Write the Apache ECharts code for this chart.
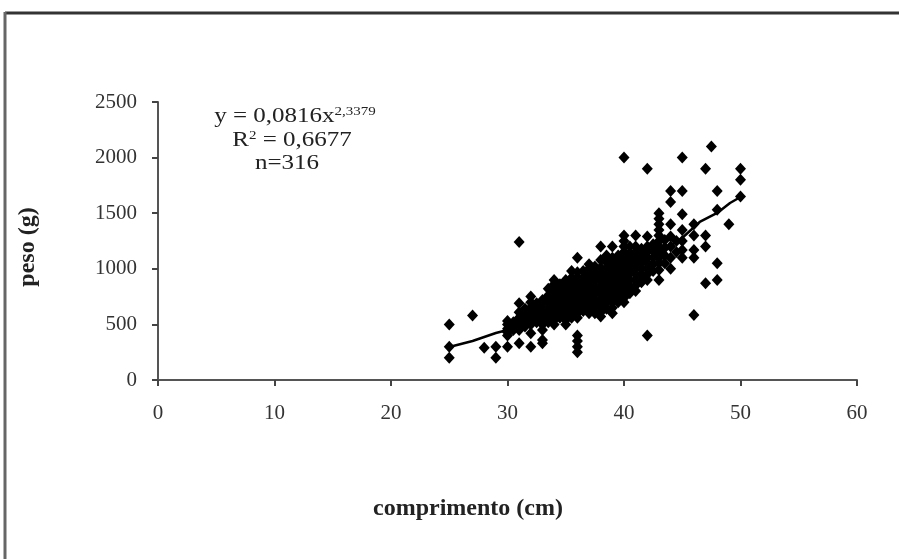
<!DOCTYPE html>
<html>
<head>
<meta charset="utf-8">
<script src="https://cdn.jsdelivr.net/npm/echarts@6/dist/echarts.min.js"></script>
<style>
html,body{margin:0;padding:0;background:#fff;}
#chart{width:899px;height:559px;}
</style>
</head>
<body>
<div id="chart"></div>
<script>
// Observed lengths (cm) and the weights (g) read at each length
const lengths = [25, 27, 28, 29, 30, 30.5, 31, 31.5, 32, 32.5, 33, 33.5, 34, 34.5, 35, 35.5, 36, 36.5, 37, 37.5, 38, 38.5, 39, 39.5, 40, 40.5, 41, 41.5, 42, 42.5, 43, 43.5, 44, 44.5, 45, 46, 47, 47.5, 48, 49, 50];
const weightsByLength = [
  [200, 300, 500],
  [580],
  [290],
  [200, 300],
  [300, 400, 430, 460, 500, 530],
  [450, 480, 520],
  [330, 450, 500, 560, 610, 690, 1240],
  [480, 530, 580, 640],
  [300, 420, 500, 550, 600, 650, 700, 750],
  [520, 570, 630, 690],
  [330, 360, 450, 500, 530, 570, 610, 650, 690, 720],
  [520, 580, 640, 700, 760, 820],
  [500, 540, 580, 620, 660, 700, 740, 780, 820, 860, 900],
  [560, 620, 680, 740, 800, 860],
  [500, 540, 580, 620, 660, 700, 740, 780, 820, 860, 900],
  [560, 620, 680, 740, 800, 860, 920, 980],
  [250, 300, 350, 400, 560, 600, 640, 680, 720, 760, 800, 840, 880, 920, 970, 1100],
  [620, 680, 740, 800, 860, 920, 980],
  [600, 640, 680, 720, 760, 800, 840, 880, 920, 960, 1000, 1040],
  [600, 660, 720, 780, 840, 900, 960, 1020],
  [570, 610, 650, 690, 730, 770, 810, 850, 890, 930, 970, 1010, 1080, 1200],
  [640, 700, 760, 820, 880, 940, 1000, 1060, 1120],
  [600, 650, 700, 740, 780, 820, 860, 900, 940, 980, 1020, 1060, 1100, 1200],
  [700, 760, 820, 880, 940, 1000, 1060, 1120],
  [700, 740, 780, 820, 860, 900, 940, 980, 1020, 1060, 1100, 1150, 1200, 1250, 1300, 2000],
  [780, 840, 900, 960, 1020, 1080, 1140, 1200],
  [800, 850, 900, 950, 1000, 1050, 1100, 1150, 1200, 1300],
  [880, 940, 1000, 1060, 1120, 1180],
  [400, 900, 950, 1000, 1050, 1100, 1150, 1200, 1290, 1900],
  [980, 1040, 1100, 1160, 1220],
  [900, 990, 1050, 1100, 1150, 1200, 1250, 1300, 1350, 1400, 1450, 1500],
  [1050, 1120, 1190, 1260],
  [1000, 1100, 1200, 1290, 1400, 1600, 1700],
  [1150, 1250],
  [1100, 1170, 1250, 1350, 1490, 1700, 2000],
  [585, 1100, 1170, 1300, 1400],
  [870, 1200, 1300, 1900],
  [2100],
  [900, 1050, 1530, 1700],
  [1400],
  [1650, 1800, 1900]
];
// Fitted curve as drawn in the figure
const trendX = [25, 27, 28, 29, 30, 32, 34, 36, 38, 40, 41.4, 43.7, 44.8, 46.5, 48, 49.1, 50];
const trendY = [297, 351, 387, 423, 450, 522, 620, 740, 860, 950, 1034, 1196, 1259, 1421, 1502, 1592, 1646];
// Axis ticks
const xTicks = [0, 10, 20, 30, 40, 50, 60];
const yTicks = [0, 500, 1000, 1500, 2000, 2500];

const points = [];
lengths.forEach((len, i) => weightsByLength[i].forEach(w => points.push([len, w])));
const trend = trendX.map((x, i) => [x, trendY[i]]);

const serif = '"Liberation Serif", "Times New Roman", serif';
const chart = echarts.init(document.getElementById('chart'), null, {renderer: 'canvas'});
chart.setOption({
  backgroundColor: '#fff',
  animation: false,
  grid: {left: 158, right: 42, top: 102, bottom: 179, containLabel: false},
  xAxis: {
    type: 'value',
    min: xTicks[0], max: xTicks[xTicks.length - 1], interval: 10,
    name: 'comprimento (cm)',
    nameLocation: 'middle',
    nameGap: 117,
    nameTextStyle: {fontFamily: serif, fontSize: 24, fontWeight: 'bold', color: '#222', padding: [0, 79, 0, 0]},
    axisLine: {show: true, lineStyle: {color: '#555', width: 2}},
    axisTick: {show: true, inside: false, length: 6, lineStyle: {color: '#444', width: 2}},
    axisLabel: {fontFamily: serif, fontSize: 21, color: '#333', margin: 23, formatter: v => String(v)},
    splitLine: {show: false}
  },
  yAxis: {
    type: 'value',
    min: yTicks[0], max: yTicks[yTicks.length - 1], interval: 500,
    name: 'peso (g)',
    nameLocation: 'middle',
    nameGap: 118,
    nameRotate: 90,
    nameTextStyle: {fontFamily: serif, fontSize: 24, fontWeight: 'bold', color: '#222', padding: [0, 12, 0, 0]},
    axisLine: {show: true, lineStyle: {color: '#555', width: 2}},
    axisTick: {show: true, inside: false, length: 6, lineStyle: {color: '#444', width: 2}},
    axisLabel: {fontFamily: serif, fontSize: 21, color: '#333', margin: 21, formatter: v => String(v)},
    splitLine: {show: false}
  },
  series: [
    {
      type: 'scatter',
      data: points,
      symbol: 'diamond',
      symbolSize: [11, 12],
      itemStyle: {color: '#000', opacity: 1},
      z: 2
    },
    {
      type: 'line',
      data: trend,
      showSymbol: false,
      lineStyle: {color: '#000', width: 2.5},
      z: 3
    }
  ],
  graphic: [
    {type: 'line', shape: {x1: 5, y1: 13, x2: 899, y2: 13}, style: {stroke: '#333', lineWidth: 3}},
    {type: 'line', shape: {x1: 5, y1: 12, x2: 5, y2: 559}, style: {stroke: '#666', lineWidth: 3}},
    {
      type: 'text', x: 295, y: 117, scaleX: 1.25,
      style: {
        text: '{a|y = 0,0816x}{s|2,3379}',
        align: 'center', verticalAlign: 'middle',
        rich: {
          a: {fontFamily: serif, fontSize: 20, fill: '#222'},
          s: {fontFamily: serif, fontSize: 12, fill: '#222', padding: [0, 0, 10, 0]}
        }
      }
    },
    {
      type: 'text', x: 292, y: 141, scaleX: 1.25,
      style: {
        text: '{a|R}{s|2}{a| = 0,6677}',
        align: 'center', verticalAlign: 'middle',
        rich: {
          a: {fontFamily: serif, fontSize: 20, fill: '#222'},
          s: {fontFamily: serif, fontSize: 12, fill: '#222', padding: [0, 0, 10, 0]}
        }
      }
    },
    {
      type: 'text', x: 287, y: 164, scaleX: 1.25,
      style: {
        text: 'n=316',
        align: 'center', verticalAlign: 'middle',
        fontFamily: serif, fontSize: 20, fill: '#222'
      }
    }
  ]
});
</script>
</body>
</html>
